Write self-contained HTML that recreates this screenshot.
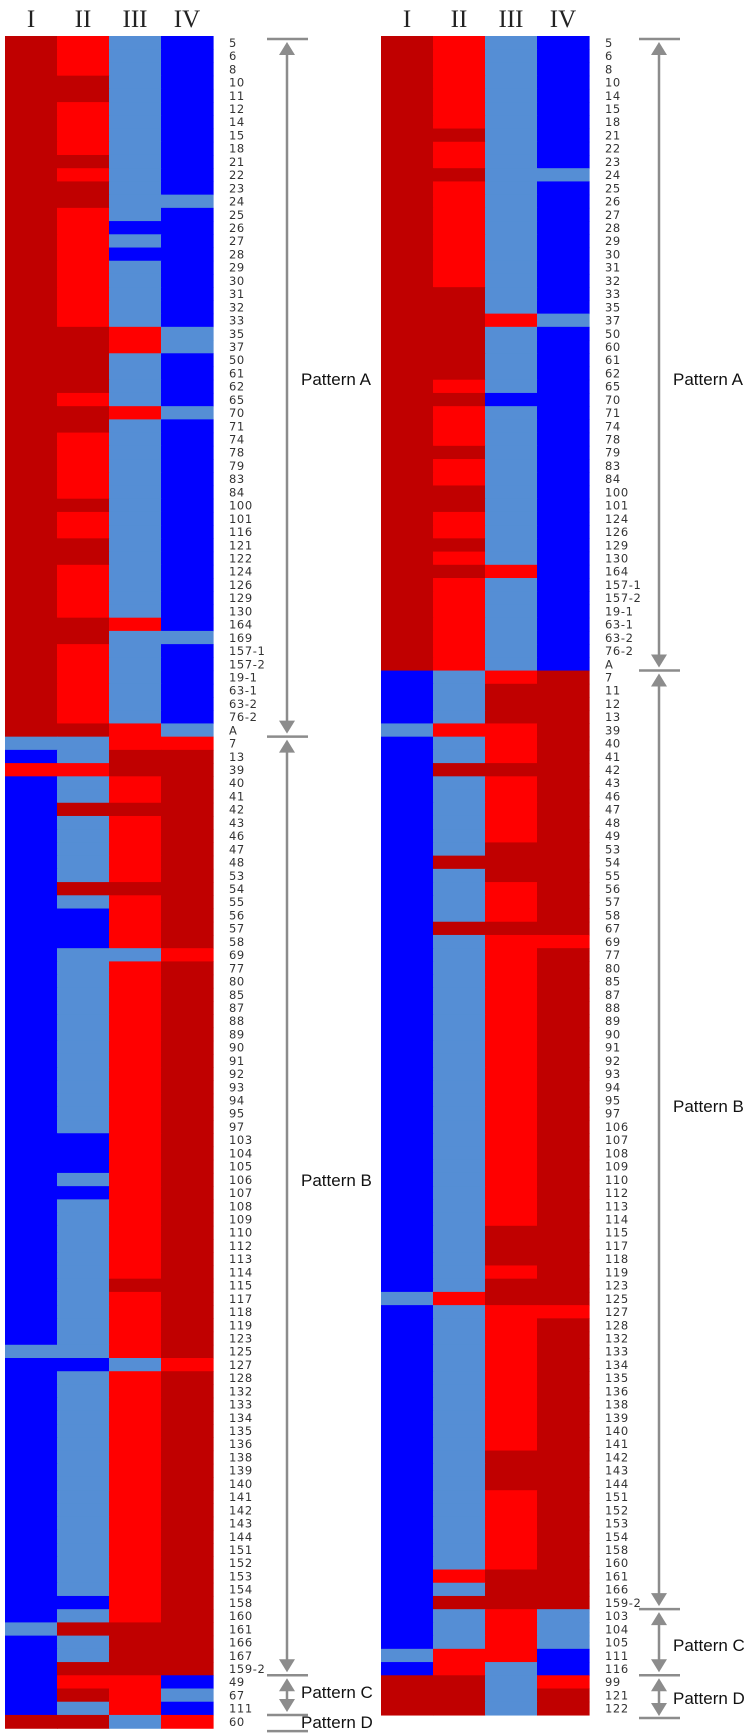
<!DOCTYPE html>
<html><head><meta charset="utf-8"><style>
html,body{margin:0;padding:0;background:#fff;}
svg{display:block;}
</style></head><body>
<svg id="chart" width="756" height="1734" xmlns="http://www.w3.org/2000/svg"></svg>
<script>
// ---- data ----
const columns = ["I","II","III","IV"];
const leftLabels = ["5","6","8","10","11","12","14","15","18","21","22","23","24","25","26","27","28","29","30","31","32","33","35","37","50","61","62","65","70","71","74","78","79","83","84","100","101","116","121","122","124","126","129","130","164","169","157-1","157-2","19-1","63-1","63-2","76-2","A","7","13","39","40","41","42","43","46","47","48","53","54","55","56","57","58","69","77","80","85","87","88","89","90","91","92","93","94","95","97","103","104","105","106","107","108","109","110","112","113","114","115","117","118","119","123","125","127","128","132","133","134","135","136","138","139","140","141","142","143","144","151","152","153","154","158","160","161","166","167","159-2","49","67","111","60"];
const leftValues = ["drlb","drlb","drlb","ddlb","ddlb","drlb","drlb","drlb","drlb","ddlb","drlb","ddlb","ddll","drlb","drbb","drlb","drbb","drlb","drlb","drlb","drlb","drlb","ddrl","ddrl","ddlb","ddlb","ddlb","drlb","ddrl","ddlb","drlb","drlb","drlb","drlb","drlb","ddlb","drlb","drlb","ddlb","ddlb","drlb","drlb","drlb","drlb","ddrb","ddll","drlb","drlb","drlb","drlb","drlb","drlb","ddrl","llrr","bldd","rrdd","blrd","blrd","bddd","blrd","blrd","blrd","blrd","blrd","bddd","blrd","bbrd","bbrd","bbrd","bllr","blrd","blrd","blrd","blrd","blrd","blrd","blrd","blrd","blrd","blrd","blrd","blrd","blrd","bbrd","bbrd","bbrd","blrd","bbrd","blrd","blrd","blrd","blrd","blrd","blrd","bldd","blrd","blrd","blrd","blrd","llrd","bblr","blrd","blrd","blrd","blrd","blrd","blrd","blrd","blrd","blrd","blrd","blrd","blrd","blrd","blrd","blrd","blrd","blrd","bbrd","blrd","lddd","bldd","bldd","bddd","brrb","bdrl","blrb","ddlr"];
const rightLabels = ["5","6","8","10","14","15","18","21","22","23","24","25","26","27","28","29","30","31","32","33","35","37","50","60","61","62","65","70","71","74","78","79","83","84","100","101","124","126","129","130","164","157-1","157-2","19-1","63-1","63-2","76-2","A","7","11","12","13","39","40","41","42","43","46","47","48","49","53","54","55","56","57","58","67","69","77","80","85","87","88","89","90","91","92","93","94","95","97","106","107","108","109","110","112","113","114","115","117","118","119","123","125","127","128","132","133","134","135","136","138","139","140","141","142","143","144","151","152","153","154","158","160","161","166","159-2","103","104","105","111","116","99","121","122"];
const rightValues = ["drlb","drlb","drlb","drlb","drlb","drlb","drlb","ddlb","drlb","drlb","ddll","drlb","drlb","drlb","drlb","drlb","drlb","drlb","drlb","ddlb","ddlb","ddrl","ddlb","ddlb","ddlb","ddlb","drlb","ddbb","drlb","drlb","drlb","ddlb","drlb","drlb","ddlb","ddlb","drlb","drlb","ddlb","drlb","ddrb","drlb","drlb","drlb","drlb","drlb","drlb","drlb","blrd","bldd","bldd","bldd","lrrd","blrd","blrd","bddd","blrd","blrd","blrd","blrd","blrd","bldd","bddd","bldd","blrd","blrd","blrd","bddd","blrr","blrd","blrd","blrd","blrd","blrd","blrd","blrd","blrd","blrd","blrd","blrd","blrd","blrd","blrd","blrd","blrd","blrd","blrd","blrd","blrd","blrd","bldd","bldd","bldd","blrd","bldd","lrdd","blrr","blrd","blrd","blrd","blrd","blrd","blrd","blrd","blrd","blrd","blrd","bldd","bldd","bldd","blrd","blrd","blrd","blrd","blrd","blrd","brdd","bldd","bddd","blrl","blrl","blrl","lrrb","brlb","ddlr","ddld","ddld"];
const leftPatterns = [["Pattern A",0,53],["Pattern B",53,124],["Pattern C",124,127],["Pattern D",127,128]];
const rightPatterns = [["Pattern A",0,48],["Pattern B",48,119],["Pattern C",119,124],["Pattern D",124,127]];

// ---- layout ----
const colorMap = {d:"#c00000", r:"#ff0000", l:"#558ed5", b:"#0000ff"};
const NS = "http://www.w3.org/2000/svg";
const svg = document.getElementById("chart");
const TOP = 36, RH = 13.22, CW = 52;
function mk(tag, attrs, parent){const e=document.createElementNS(NS,tag);for(const k in attrs)e.setAttribute(k,attrs[k]);(parent||svg).appendChild(e);return e;}
function rowY(i){return TOP + i*RH;}

function drawMap(x0, labels, values, patterns, arrowX, textY, side){
  const g = mk("g",{});
  
  
  columns.forEach((c,ci)=>{
    const t = mk("text",{x:x0+ci*CW+CW/2, y:27, "text-anchor":"middle", "font-family":"Liberation Serif, serif", "font-size":"25", fill:"#222"}, g);
    
    
    t.textContent = c;
  });
  values.forEach((v,ri)=>{
    for(let ci=0;ci<4;ci++){
      const r = mk("rect",{x:x0+ci*CW, y:rowY(ri), width:CW+0.6, height:RH+0.6, fill:colorMap[v[ci]]}, g);
      
      
    }
  });
  labels.forEach((lab,ri)=>{
    const t = mk("text",{x:x0+4*CW+16, y:rowY(ri)+RH/2+4.3, "font-family":"DejaVu Sans, sans-serif", "font-size":"11.5", "letter-spacing":"0.6", fill:"#333"}, g);
    
    
    t.textContent = lab;
  });
  const grey="#8c8c8c";
  patterns.forEach((p,pi)=>{
    const y1 = pi===0 ? rowY(p[1])+3 : rowY(p[1]);
    const y2 = rowY(p[2]);
    const bt = mk("line",{x1:arrowX-20,x2:arrowX+21,y1:y1,y2:y1,stroke:grey,"stroke-width":2.5}, g);
    
    
    if(pi===patterns.length-1){
      const bb = mk("line",{x1:arrowX-20,x2:arrowX+21,y1:y2+3,y2:y2+3,stroke:grey,"stroke-width":2.5}, g);
      
      
    }
    const a1=y1+3, a2=(pi===patterns.length-1? y2+1 : y2-3);
    if(a2-a1>12){
      const ln = mk("line",{x1:arrowX,x2:arrowX,y1:a1+8,y2:a2-8,stroke:grey,"stroke-width":2.5}, g);
      
      
      mk("polygon",{points:`${arrowX},${a1} ${arrowX-8},${a1+13} ${arrowX+8},${a1+13}`,fill:grey}, g);
      mk("polygon",{points:`${arrowX},${a2} ${arrowX-8},${a2-13} ${arrowX+8},${a2-13}`,fill:grey}, g);
    }
    const t = mk("text",{x:arrowX+14, y:textY[pi], "font-family":"Liberation Sans, sans-serif", "font-size":"17", fill:"#111"}, g);
    
    
    t.textContent = p[0];
  });
}
drawMap(5, leftLabels, leftValues, leftPatterns, 287, [385, 1186, 1698, 1728], "left");
drawMap(381, rightLabels, rightValues, rightPatterns, 659, [385, 1112, 1651, 1704], "right");
</script>
</body></html>
